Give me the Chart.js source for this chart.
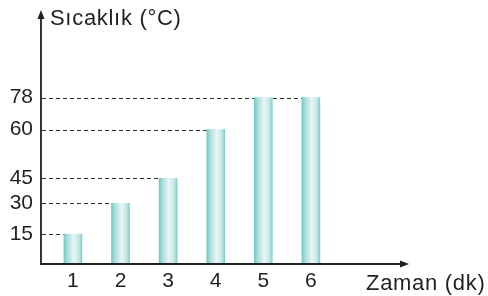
<!DOCTYPE html>
<html>
<head>
<meta charset="utf-8">
<script src="https://cdn.jsdelivr.net/npm/chart.js@4/dist/chart.umd.min.js"></script>
<style>
html,body{margin:0;padding:0;background:#fff;}
#wrap{width:488px;height:296px;}
</style>
</head>
<body>
<div id="wrap"><canvas id="c" width="488" height="296"></canvas></div>
<script>
// ---- data ----
const times = [1, 2, 3, 4, 5, 6];
const temps = [15, 30, 45, 60, 78, 78];
const yTicks = [15, 30, 45, 60, 78];
const yTitle = 'Sıcaklık (°C)';
const xTitle = 'Zaman (dk)';

// ---- schematic (non-uniform) value axis, as in the printed figure ----
const stopValues = [0, 15, 30, 45, 60, 78, 100];
const stopFractions = [0, 30/253, 61/253, 86/253, 135/253, 167/253, 1];

function valueToFraction(v) {
  if (v <= stopValues[0]) return stopFractions[0];
  for (let i = 1; i < stopValues.length; i++) {
    if (v <= stopValues[i]) {
      const t = (v - stopValues[i-1]) / (stopValues[i] - stopValues[i-1]);
      return stopFractions[i-1] + t * (stopFractions[i] - stopFractions[i-1]);
    }
  }
  return 1;
}
function fractionToValue(f) {
  for (let i = 1; i < stopFractions.length; i++) {
    if (f <= stopFractions[i]) {
      const t = (f - stopFractions[i-1]) / (stopFractions[i] - stopFractions[i-1]);
      return stopValues[i-1] + t * (stopValues[i] - stopValues[i-1]);
    }
  }
  return stopValues[stopValues.length-1];
}

class SchematicScale extends Chart.LinearScale {
  getPixelForValue(value) {
    if (value === null || value === undefined) return NaN;
    return this.getPixelForDecimal(valueToFraction(value));
  }
  getValueForPixel(pixel) {
    return fractionToValue(this.getDecimalForPixel(pixel));
  }
}
SchematicScale.id = 'schematic';
SchematicScale.defaults = Chart.LinearScale.defaults;
Chart.register(SchematicScale);

const INK = '#231f20';
const FONT = "'Liberation Sans', Arial, sans-serif";

const decorPlugin = {
  id: 'decor',
  beforeDatasetsDraw(chart) {
    const ctx = chart.ctx, ys = chart.scales.y;
    const meta = chart.getDatasetMeta(0);
    ctx.save();
    ctx.strokeStyle = '#2e2e2e';
    ctx.lineWidth = 1;
    ctx.setLineDash([4, 3]);
    yTicks.forEach(tv => {
      let last = -1;
      temps.forEach((t, i) => { if (t === tv) last = i; });
      if (last < 0) return;
      const bar = meta.data[last];
      const y = Math.round(ys.getPixelForValue(tv)) + 0.5;
      ctx.beginPath();
      ctx.moveTo(chart.chartArea.left + 1, y);
      ctx.lineTo(bar.x - bar.width / 2, y);
      ctx.stroke();
    });
    ctx.restore();
  },
  afterDatasetsDraw(chart) {
    const ctx = chart.ctx, a = chart.chartArea;
    ctx.save();
    ctx.strokeStyle = INK;
    ctx.fillStyle = INK;
    ctx.lineWidth = 1.8;
    // y axis
    ctx.beginPath();
    ctx.moveTo(a.left, a.bottom + 1);
    ctx.lineTo(a.left, a.top + 4);
    ctx.stroke();
    ctx.beginPath();
    ctx.moveTo(a.left, a.top - 2);
    ctx.lineTo(a.left - 3.5, a.top + 7);
    ctx.lineTo(a.left + 3.5, a.top + 7);
    ctx.closePath();
    ctx.fill();
    // x axis
    ctx.beginPath();
    ctx.moveTo(a.left - 1, a.bottom);
    ctx.lineTo(a.right - 4, a.bottom);
    ctx.stroke();
    ctx.beginPath();
    ctx.moveTo(a.right + 1, a.bottom);
    ctx.lineTo(a.right - 8, a.bottom - 3.5);
    ctx.lineTo(a.right - 8, a.bottom + 3.5);
    ctx.closePath();
    ctx.fill();
    // titles
    ctx.font = '22px ' + FONT;
    ctx.letterSpacing = '0.7px';
    ctx.textAlign = 'left';
    ctx.textBaseline = 'alphabetic';
    ctx.fillText(yTitle, a.left + 9, 25);
    ctx.fillText(xTitle, 366, 290);
    ctx.restore();
  }
};

function barGradient(context) {
  const chart = context.chart;
  const xs = chart.scales.x;
  if (!xs || !chart.chartArea) return '#a8dcd9';
  const cx = xs.getPixelForValue(context.raw.x);
  const g = chart.ctx.createLinearGradient(cx - 9, 0, cx + 9, 0);
  g.addColorStop(0, '#74c9c4');
  g.addColorStop(0.2, '#a9dfdc');
  g.addColorStop(0.55, '#e9f6f5');
  g.addColorStop(0.85, '#bfe7e4');
  g.addColorStop(1, '#7ccdc8');
  return g;
}

new Chart(document.getElementById('c'), {
  type: 'bar',
  data: {
    datasets: [{
      data: times.map((t, i) => ({ x: t, y: temps[i] })),
      backgroundColor: barGradient,
      borderWidth: 0,
      barThickness: 18
    }]
  },
  options: {
    responsive: false,
    animation: false,
    events: [],
    layout: { padding: { left: 0, right: 80, top: 12, bottom: 0 } },
    plugins: { legend: { display: false }, tooltip: { enabled: false }, title: { display: false } },
    scales: {
      x: {
        type: 'linear',
        offset: false,
        min: 0.33,
        max: 8.04,
        grid: { display: false, drawTicks: false, offset: false },
        border: { display: false },
        afterBuildTicks: s => { s.ticks = times.map(v => ({ value: v })); },
        afterFit: s => { s.height = 32; s.paddingLeft = 0; s.paddingRight = 0; },
        ticks: {
          autoSkip: false,
          maxRotation: 0,
          padding: 5,
          color: INK,
          font: { family: FONT, size: 21 },
          callback: v => String(v)
        }
      },
      y: {
        type: 'schematic',
        min: 0,
        max: 100,
        grid: { display: false, drawTicks: false },
        border: { display: false },
        afterBuildTicks: s => { s.ticks = yTicks.map(v => ({ value: v })); },
        afterFit: s => { s.width = 41; s.paddingTop = 0; s.paddingBottom = 0; },
        ticks: {
          autoSkip: false,
          padding: 8,
          color: INK,
          font: { family: FONT, size: 21 },
          callback: v => String(v)
        }
      }
    }
  },
  plugins: [decorPlugin]
});
</script>
</body>
</html>
